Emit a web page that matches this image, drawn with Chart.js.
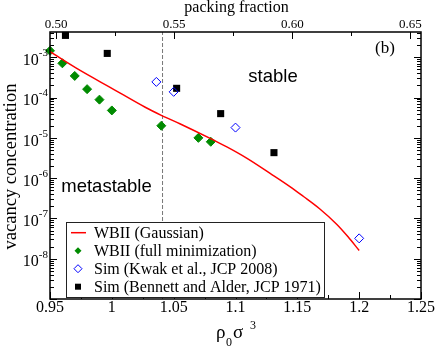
<!DOCTYPE html>
<html>
<head>
<meta charset="utf-8">
<script src="https://cdn.jsdelivr.net/npm/chart.js@4.4.1/dist/chart.umd.min.js"></script>
<style>
  html, body { margin: 0; padding: 0; background: #fff; }
  #wrap { width: 436px; height: 348px; position: relative; }
</style>
</head>
<body>
<div id="wrap"><canvas id="chart"></canvas></div>
<script>
// WBII (Gaussian) curve
const gaussRho = [0.95, 0.973, 1.0, 1.027, 1.04, 1.055, 1.066, 1.082, 1.093, 1.109, 1.128, 1.144, 1.155, 1.168, 1.182, 1.191, 1.2];
const gaussConc = [1.38e-3, 5.0e-4, 1.7e-4, 5.75e-5, 3.63e-5, 2.24e-5, 1.55e-5, 8.9e-6, 6.0e-6, 3.16e-6, 1.32e-6, 6.2e-7, 3.5e-7, 1.74e-7, 7.1e-8, 3.5e-8, 1.6e-8];

// WBII (full minimization)
const fullRho = [0.95, 0.96, 0.97, 0.98, 0.99, 1.0, 1.04, 1.07, 1.08];
const fullConc = [1.45e-3, 7.1e-4, 3.45e-4, 1.62e-4, 8.9e-5, 4.8e-5, 2.0e-5, 1.0e-5, 8.0e-6];

// Sim (Kwak et al., JCP 2008)
const kwakRho = [1.036, 1.05, 1.1, 1.2];
const kwakConc = [2.45e-4, 1.39e-4, 1.8e-5, 3.2e-8];

// Sim (Bennett and Alder, JCP 1971)
const bennettRho = [0.9625, 0.9963, 1.0524, 1.088, 1.1311];
const bennettConc = [3.5e-3, 1.25e-3, 1.7e-4, 4.0e-5, 4.3e-6];

const meltRho = 1.041;
const seriesNames = ["WBII (Gaussian)", "WBII (full minimization)", "Sim (Kwak et al., JCP 2008)", "Sim (Bennett and Alder, JCP 1971)"];

const xTicks = [0.95, 1, 1.05, 1.1, 1.15, 1.2, 1.25];
const xTickLabels = ["0.95", "1", "1.05", "1.1", "1.15", "1.2", "1.25"];
const pfTicks = [0.5, 0.55, 0.6, 0.65];
const pfTickLabels = ["0.50", "0.55", "0.60", "0.65"];
const yDecades = [-8, -7, -6, -5, -4, -3];

const X_MIN = 0.95, X_MAX = 1.25;
const Y_MIN = 1e-9, Y_MAX = 4.25e-3;

const SERIF = '"Liberation Serif", "Times New Roman", serif';
const SANS = '"Liberation Sans", Arial, sans-serif';

function pairs(xs, ys) {
  return xs.map((v, i) => ({ x: v, y: ys[i] }));
}

function line(ctx, x1, y1, x2, y2) {
  ctx.beginPath();
  ctx.moveTo(x1, y1);
  ctx.lineTo(x2, y2);
  ctx.stroke();
}

const decorations = {
  id: "decorations",
  afterDatasetsDraw(chart) {
    const { ctx, chartArea: a, scales: { x, y } } = chart;
    ctx.save();
    ctx.strokeStyle = "#000";
    ctx.fillStyle = "#000";
    ctx.lineWidth = 1;

    // bottom ticks
    for (let i = 0; i <= 12; i++) {
      const v = X_MIN + i * 0.025;
      const px = Math.round(x.getPixelForValue(v)) + 0.5;
      line(ctx, px, a.bottom, px, a.bottom - (i % 2 ? 4 : 7));
    }
    // top ticks (packing fraction)
    for (let i = 0; i <= 6; i++) {
      const pf = 0.5 + i * 0.025;
      const px = Math.round(x.getPixelForValue(pf * 6 / Math.PI)) + 0.5;
      line(ctx, px, a.top, px, a.top + (i % 2 ? 4 : 7));
    }
    // left / right log ticks
    for (let d = -9; d <= -3; d++) {
      for (let k = 1; k <= 9; k++) {
        const v = k * Math.pow(10, d);
        if (v > Y_MAX || v < Y_MIN) continue;
        const py = Math.round(y.getPixelForValue(v)) + 0.5;
        const len = k === 1 ? 7 : 4;
        line(ctx, a.left, py, a.left + len, py);
        line(ctx, a.right, py, a.right - len, py);
      }
    }

    // frame
    ctx.lineWidth = 1.5;
    ctx.strokeRect(a.left, a.top, a.right - a.left, a.bottom - a.top);

    // bottom labels
    ctx.font = "16px " + SERIF;
    ctx.textAlign = "center";
    ctx.textBaseline = "middle";
    xTicks.forEach((v, i) => ctx.fillText(xTickLabels[i], x.getPixelForValue(v), 308));

    // top labels
    ctx.font = "13px " + SERIF;
    pfTicks.forEach((pf, i) => ctx.fillText(pfTickLabels[i], x.getPixelForValue(pf * 6 / Math.PI), 25));

    // y labels 10^n
    yDecades.forEach((d) => {
      const py = y.getPixelForValue(Math.pow(10, d));
      const sup = "-" + Math.abs(d);
      ctx.textAlign = "right";
      ctx.font = "11px " + SERIF;
      const supW = ctx.measureText(sup).width;
      ctx.fillText(sup, 48, py - 4);
      ctx.font = "16px " + SERIF;
      ctx.fillText("10", 48 - supW, py + 3.5);
    });

    // axis titles
    ctx.textAlign = "center";
    ctx.textBaseline = "alphabetic";
    ctx.font = "16px " + SERIF;
    ctx.fillText("packing fraction", 236.5, 12);

    ctx.save();
    ctx.translate(16, 166.5);
    ctx.rotate(-Math.PI / 2);
    ctx.font = "18.5px " + SERIF;
    ctx.fillText("vacancy concentration", 0, 0);
    ctx.restore();

    ctx.textAlign = "left";
    ctx.font = "19px " + SERIF;
    ctx.fillText("\u03c1", 216, 338);
    ctx.fillText("\u03c3", 233, 338);
    ctx.font = "12px " + SERIF;
    ctx.fillText("0", 226, 346);
    ctx.fillText("3", 250, 329);

    // panel label and region labels
    ctx.font = "17px " + SERIF;
    ctx.textAlign = "center";
    ctx.fillText("(b)", 385, 53);
    ctx.font = "18.5px " + SANS;
    ctx.textBaseline = "middle";
    ctx.fillText("stable", 273, 77);
    ctx.fillText("metastable", 106.5, 187);

    // legend
    const lx = 66, ly = 222, lw = 258, lh = 75;
    ctx.fillStyle = "#fff";
    ctx.fillRect(lx, ly, lw, lh);
    ctx.strokeStyle = "#222";
    ctx.lineWidth = 1;
    ctx.strokeRect(lx + 0.5, ly + 0.5, lw, lh);

    const rows = [232.7, 250.7, 268.7, 286.7];
    const mx = 78;
    // red line
    ctx.strokeStyle = "#ff0000";
    ctx.lineWidth = 1.5;
    line(ctx, 71, rows[0], 86, rows[0]);
    // green diamond
    ctx.fillStyle = "#008b00";
    ctx.beginPath();
    ctx.moveTo(mx, rows[1] - 3.5); ctx.lineTo(mx + 3.5, rows[1]);
    ctx.lineTo(mx, rows[1] + 3.5); ctx.lineTo(mx - 3.5, rows[1]);
    ctx.closePath(); ctx.fill();
    // blue open diamond
    ctx.strokeStyle = "#0000ff";
    ctx.lineWidth = 1;
    ctx.beginPath();
    ctx.moveTo(mx, rows[2] - 4); ctx.lineTo(mx + 4, rows[2]);
    ctx.lineTo(mx, rows[2] + 4); ctx.lineTo(mx - 4, rows[2]);
    ctx.closePath(); ctx.stroke();
    // black square
    ctx.fillStyle = "#000";
    ctx.fillRect(mx - 3, rows[3] - 3, 6, 6);

    ctx.fillStyle = "#000";
    ctx.font = "16px " + SERIF;
    ctx.textAlign = "left";
    ctx.textBaseline = "middle";
    seriesNames.forEach((name, i) => ctx.fillText(name, 94, rows[i] + 1));

    ctx.restore();
  },
};

new Chart(document.getElementById("chart"), {
  type: "scatter",
  data: {
    datasets: [
      {
        label: seriesNames[0],
        data: pairs(gaussRho, gaussConc),
        showLine: true,
        borderColor: "#ff0000",
        borderWidth: 1.5,
        pointRadius: 0,
        cubicInterpolationMode: "monotone",
      },
      {
        label: seriesNames[1],
        data: pairs(fullRho, fullConc),
        pointStyle: "rectRot",
        pointRadius: 4.5,
        backgroundColor: "#008b00",
        borderColor: "#008b00",
        borderWidth: 1,
        clip: false,
      },
      {
        label: seriesNames[2],
        data: pairs(kwakRho, kwakConc),
        pointStyle: "rectRot",
        pointRadius: 4.5,
        backgroundColor: "rgba(0,0,0,0)",
        borderColor: "#0000ff",
        borderWidth: 1,
        clip: false,
      },
      {
        label: seriesNames[3],
        data: pairs(bennettRho, bennettConc),
        pointStyle: "rect",
        pointRadius: 5,
        backgroundColor: "#000",
        borderColor: "#000",
        borderWidth: 0,
        clip: false,
      },
      {
        label: "melting",
        data: [{ x: meltRho, y: Y_MIN }, { x: meltRho, y: Y_MAX }],
        showLine: true,
        borderColor: "#777",
        borderWidth: 1,
        borderDash: [4, 2],
        pointRadius: 0,
      },
    ],
  },
  options: {
    responsive: true,
    maintainAspectRatio: false,
    animation: false,
    layout: { padding: { left: 50, right: 15, top: 32, bottom: 49 } },
    plugins: {
      legend: { display: false },
      tooltip: { enabled: false },
    },
    scales: {
      x: { type: "linear", display: false, min: X_MIN, max: X_MAX },
      y: { type: "logarithmic", display: false, min: Y_MIN, max: Y_MAX, bounds: "data" },
    },
  },
  plugins: [decorations],
});
</script>
</body>
</html>
